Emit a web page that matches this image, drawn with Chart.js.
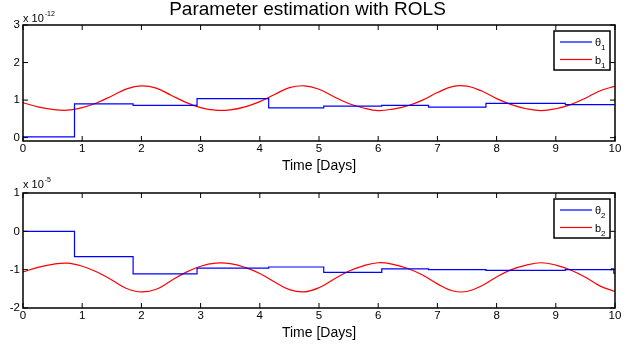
<!DOCTYPE html>
<html>
<head>
<meta charset="utf-8">
<script src="https://cdn.jsdelivr.net/npm/chart.js@4/dist/chart.umd.min.js"></script>
<style>
  body { margin: 0; background: #fff; }
  .panel { width: 636px; height: 176px; }
</style>
</head>
<body>
<div class="panel"><canvas id="top" width="636" height="176"></canvas></div>
<div class="panel"><canvas id="bottom" width="636" height="176"></canvas></div>
<script>
// values, y in units of the axis multiplier
const dayTicks = [0, 1, 2, 3, 4, 5, 6, 7, 8, 9, 10];
const topTicks = [0, 1, 2, 3];
const bottomTicks = [-2, -1, 0, 1];

const theta1Days = [0, 0.87, 1.86, 2.94, 4.15, 5.08, 6.06, 6.85, 7.82, 9.16, 10];
const theta1 = [0.02, 0.90, 0.86, 1.04, 0.79, 0.84, 0.86, 0.81, 0.91, 0.88, 0.88];

const theta2Days = [0, 0.87, 1.86, 2.94, 4.15, 5.08, 6.06, 6.85, 7.82, 9.16, 9.94, 9.98, 10];
const theta2 = [0, -0.66, -1.11, -0.96, -0.93, -1.07, -0.98, -1.00, -1.02, -1.00, -0.98, -1.09, -1.09];

const curveDays = [0, 0.25, 0.5, 0.75, 1, 1.25, 1.5, 1.75, 2, 2.25, 2.5, 2.75, 3, 3.25, 3.5, 3.75,
  4, 4.25, 4.5, 4.75, 5, 5.25, 5.5, 5.75, 6, 6.25, 6.5, 6.75, 7, 7.25, 7.5, 7.75,
  8, 8.25, 8.5, 8.75, 9, 9.25, 9.5, 9.75, 10];
const b1 = [0.93, 0.82, 0.75, 0.73, 0.80, 0.93, 1.11, 1.30, 1.38, 1.32, 1.13, 0.94, 0.80, 0.73, 0.74, 0.82,
  0.96, 1.15, 1.33, 1.38, 1.29, 1.09, 0.91, 0.79, 0.72, 0.76, 0.85, 1.00, 1.20, 1.36, 1.37, 1.24,
  1.04, 0.88, 0.77, 0.72, 0.77, 0.88, 1.05, 1.25, 1.37];
const b2 = [-1.06, -0.94, -0.86, -0.83, -0.91, -1.06, -1.27, -1.49, -1.58, -1.51, -1.29, -1.07, -0.91, -0.83, -0.84, -0.94,
  -1.10, -1.32, -1.52, -1.58, -1.47, -1.25, -1.04, -0.90, -0.82, -0.86, -0.97, -1.14, -1.37, -1.55, -1.57, -1.42,
  -1.19, -1.00, -0.88, -0.82, -0.88, -1.01, -1.20, -1.43, -1.57];

const FONT = '"Liberation Sans", Arial, Helvetica, sans-serif';
Chart.defaults.font.family = FONT;
Chart.defaults.color = '#000';

const toPoints = (xs, ys) => xs.map((x, i) => ({ x, y: ys[i] }));

// matlab style box, inward ticks, exponent label and legend
const matlabAxes = {
  id: 'matlabAxes',
  afterDatasetsDraw(chart, args, opts) {
    const { ctx, chartArea: a, scales: { x, y } } = chart;
    ctx.save();
    ctx.strokeStyle = '#000';
    ctx.lineWidth = 1;
    ctx.beginPath();
    x.ticks.forEach(t => {
      const px = x.getPixelForValue(t.value);
      ctx.moveTo(px, a.bottom); ctx.lineTo(px, a.bottom - 5);
      ctx.moveTo(px, a.top); ctx.lineTo(px, a.top + 5);
    });
    y.ticks.forEach(t => {
      const py = y.getPixelForValue(t.value);
      ctx.moveTo(a.left, py); ctx.lineTo(a.left + 5, py);
      ctx.moveTo(a.right, py); ctx.lineTo(a.right - 5, py);
    });
    ctx.stroke();
    ctx.lineWidth = 1.5;
    ctx.strokeRect(a.left, a.top, a.width, a.height);

    // exponent
    ctx.fillStyle = '#000';
    ctx.textBaseline = 'alphabetic';
    ctx.font = '11px ' + FONT;
    const ey = a.top - opts.expGap;
    ctx.fillText('x 10', a.left, ey);
    const ew = ctx.measureText('x 10').width;
    ctx.font = '7px ' + FONT;
    ctx.fillText(opts.exponent, a.left + ew + 1, ey - 6);

    // legend
    const bw = 56, bh = 39;
    const bx = a.right - 5 - bw, by = a.top + 6;
    ctx.fillStyle = '#fff';
    ctx.fillRect(bx, by, bw, bh);
    ctx.lineWidth = 1.5;
    ctx.strokeStyle = '#000';
    ctx.strokeRect(bx, by, bw, bh);
    chart.data.datasets.forEach((ds, i) => {
      const ly = by + 11 + i * 17.5;
      ctx.strokeStyle = ds.borderColor;
      ctx.lineWidth = 1.2;
      ctx.beginPath();
      ctx.moveTo(bx + 6, ly); ctx.lineTo(bx + 38, ly);
      ctx.stroke();
      ctx.fillStyle = '#000';
      ctx.font = '11px ' + FONT;
      const base = ds.label.slice(0, -1);
      ctx.fillText(base, bx + 41, ly + 4);
      const w = ctx.measureText(base).width;
      ctx.font = '8px ' + FONT;
      ctx.fillText(ds.label.slice(-1), bx + 41 + w, ly + 8);
    });
    ctx.restore();
  }
};

function makePanel(id, cfg) {
  return new Chart(document.getElementById(id), {
    type: 'line',
    data: {
      datasets: [
        { label: cfg.stepLabel, data: cfg.steps, borderColor: '#0000ff', borderWidth: 1.2,
          stepped: true, pointRadius: 0 },
        { label: cfg.curveLabel, data: cfg.curve, borderColor: '#ff0000', borderWidth: 1.2,
          tension: 0.4, pointRadius: 0 }
      ]
    },
    options: {
      responsive: false,
      animation: false,
      devicePixelRatio: 1,
      layout: { padding: { top: cfg.padTop, right: 21, bottom: 0, left: 0 } },
      plugins: {
        legend: { display: false },
        tooltip: { enabled: false },
        title: cfg.title ? {
          display: true, text: cfg.title, color: '#000',
          font: { size: 19, weight: 'normal', lineHeight: 1 },
          padding: { top: 0, bottom: 6 }
        } : { display: false },
        matlabAxes: { exponent: cfg.exponent, expGap: cfg.expGap }
      },
      scales: {
        x: {
          type: 'linear', min: 0, max: 10,
          grid: { display: false, drawTicks: false }, border: { display: false },
          ticks: { font: { size: 11.5 }, padding: 0.5, maxRotation: 0 },
          afterBuildTicks: s => { s.ticks = dayTicks.map(v => ({ value: v })); },
          afterFit: s => { s.height = cfg.xHeight; },
          title: { display: true, text: 'Time [Days]', font: { size: 14 },
            padding: { top: 0, bottom: cfg.xTitlePad } }
        },
        y: {
          type: 'linear', min: cfg.yMin, max: cfg.yMax,
          grid: { display: false, drawTicks: false }, border: { display: false },
          ticks: { font: { size: 11.5 }, padding: 3 },
          afterBuildTicks: s => { s.ticks = cfg.yTicks.map(v => ({ value: v })); },
          afterFit: s => { s.width = 23; }
        }
      }
    },
    plugins: [matlabAxes]
  });
}

makePanel('top', {
  title: 'Parameter estimation with ROLS',
  stepLabel: 'θ1', curveLabel: 'b1',
  steps: toPoints(theta1Days, theta1), curve: toPoints(curveDays, b1),
  yMin: -0.09, yMax: 3, yTicks: topTicks,
  padTop: 0, xHeight: 35, xTitlePad: 1,
  exponent: '-12', expGap: 3.5
});

makePanel('bottom', {
  title: null,
  stepLabel: 'θ2', curveLabel: 'b2',
  steps: toPoints(theta2Days, theta2), curve: toPoints(curveDays, b2),
  yMin: -2, yMax: 1, yTicks: bottomTicks,
  padTop: 17, xHeight: 44, xTitlePad: 10.7,
  exponent: '-5', expGap: 5
});
</script>
</body>
</html>
